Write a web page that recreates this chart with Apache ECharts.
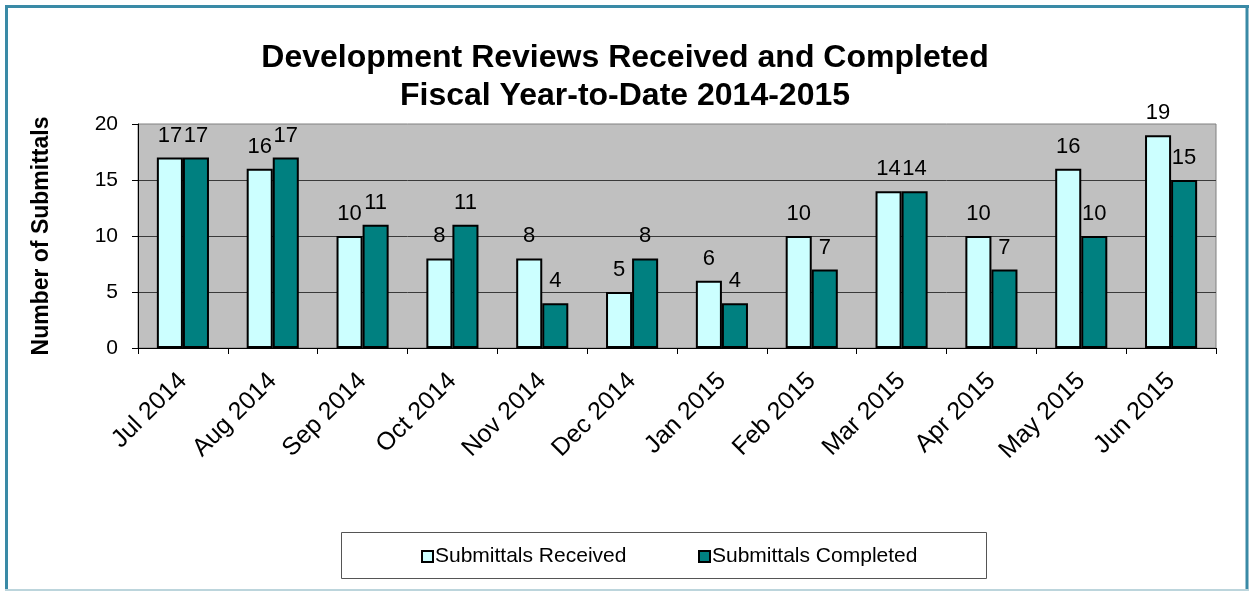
<!DOCTYPE html>
<html>
<head>
<meta charset="utf-8">
<title>Development Reviews Received and Completed</title>
<script src="https://cdn.jsdelivr.net/npm/echarts@6/dist/echarts.min.js"></script>
<style>
  html, body { margin: 0; padding: 0; background: #ffffff; }
  #chart { width: 1250px; height: 592px; }
</style>
</head>
<body>
<div id="chart"></div>
<script>
// Monthly development review counts, fiscal year 2014-2015
const months = ['Jul 2014', 'Aug 2014', 'Sep 2014', 'Oct 2014', 'Nov 2014', 'Dec 2014',
                'Jan 2015', 'Feb 2015', 'Mar 2015', 'Apr 2015', 'May 2015', 'Jun 2015'];
const received = [17, 16, 10, 8, 8, 5, 6, 10, 14, 10, 16, 19];
const completed = [17, 17, 11, 11, 4, 8, 4, 7, 14, 7, 10, 15];
const seriesNames = ['Submittals Received', 'Submittals Completed'];
const yTicks = { min: 0, max: 20, step: 5 };

const FONT = '"Liberation Sans", Arial, Helvetica, sans-serif';

const chart = echarts.init(document.getElementById('chart'), null, { renderer: 'canvas' });

const barLabel = {
  show: true,
  position: 'top',
  distance: 11,
  color: '#000',
  fontFamily: FONT,
  fontSize: 22
};

const legendCommon = {
  top: 546,
  icon: 'rect',
  itemWidth: 11,
  itemHeight: 11,
  padding: 0,
  textStyle: { fontFamily: FONT, fontSize: 21, color: '#000', padding: [0, 0, 0, -3] },
  itemStyle: { borderColor: '#000', borderWidth: 2 }
};

chart.setOption({
  animation: false,
  backgroundColor: '#ffffff',
  textStyle: { fontFamily: FONT },
  title: {
    text: 'Development Reviews Received and Completed\nFiscal Year-to-Date 2014-2015',
    left: 'center',
    top: 39,
    padding: 0,
    textStyle: {
      fontFamily: FONT,
      fontSize: 32,
      fontWeight: 'bold',
      lineHeight: 38,
      color: '#000'
    }
  },
  legend: [
    Object.assign({ left: 421, data: [seriesNames[0]] }, legendCommon),
    Object.assign({ left: 698, data: [seriesNames[1]] }, legendCommon)
  ],
  grid: {
    left: 138,
    top: 124,
    right: 34,
    bottom: 244,
    show: true,
    backgroundColor: '#c0c0c0',
    borderColor: '#808080',
    borderWidth: 1,
    containLabel: false
  },
  xAxis: {
    type: 'category',
    data: months,
    boundaryGap: true,
    axisLine: { show: true, lineStyle: { color: '#000', width: 1 } },
    axisTick: { show: true, length: 6, lineStyle: { color: '#000' } },
    axisLabel: {
      interval: 0,
      rotate: 45,
      margin: 29,
      color: '#000',
      fontFamily: FONT,
      fontSize: 25
    },
    splitLine: { show: false }
  },
  yAxis: {
    type: 'value',
    min: yTicks.min,
    max: yTicks.max,
    interval: yTicks.step,
    name: 'Number of Submittals',
    nameLocation: 'middle',
    nameGap: 85,
    nameTextStyle: {
      fontFamily: FONT,
      fontSize: 23,
      fontWeight: 'bold',
      color: '#000'
    },
    axisLine: { show: true, lineStyle: { color: '#000', width: 1 } },
    axisTick: { show: true, length: 6, lineStyle: { color: '#000' } },
    axisLabel: {
      margin: 20,
      color: '#000',
      fontFamily: FONT,
      fontSize: 21
    },
    splitLine: { show: true, showMaxLine: false, lineStyle: { color: '#3a3a3a', width: 1 } }
  },
  series: [
    {
      name: seriesNames[0],
      type: 'bar',
      data: received,
      barGap: '0%',
      barCategoryGap: '42%',
      itemStyle: { color: '#ccffff', borderColor: '#000', borderWidth: 2 },
      label: barLabel
    },
    {
      name: seriesNames[1],
      type: 'bar',
      data: completed,
      itemStyle: { color: '#008080', borderColor: '#000', borderWidth: 2 },
      label: barLabel
    }
  ],
  graphic: [
    // outer frame of the chart
    { type: 'line', shape: { x1: 6.5, y1: 5, x2: 6.5, y2: 590 }, style: { stroke: '#3a8aa6', lineWidth: 3 }, silent: true },
    { type: 'line', shape: { x1: 5, y1: 6.5, x2: 1249, y2: 6.5 }, style: { stroke: '#3a8aa6', lineWidth: 3 }, silent: true },
    { type: 'line', shape: { x1: 1247, y1: 5, x2: 1247, y2: 590 }, style: { stroke: '#3a8aa6', lineWidth: 3 }, silent: true },
    { type: 'line', shape: { x1: 5, y1: 590, x2: 1249, y2: 590 }, style: { stroke: '#bcd5dc', lineWidth: 2 }, silent: true },
    // legend box
    { type: 'rect', shape: { x: 341.5, y: 532.5, width: 645, height: 46 },
      style: { fill: '#fff', stroke: '#555', lineWidth: 1 }, z: -1, silent: true }
  ]
});
</script>
</body>
</html>
